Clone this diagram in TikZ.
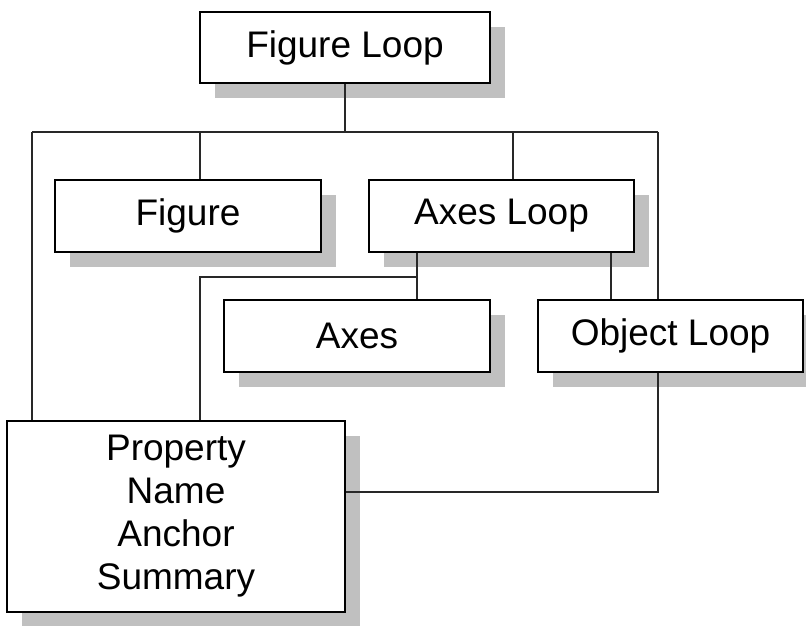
\documentclass[tikz,border=0pt]{standalone}
\usepackage{fontspec}
\setmainfont{Liberation Sans}
\usetikzlibrary{shadows}
\definecolor{shadowgray}{RGB}{192,192,192}
\definecolor{linegray}{RGB}{40,40,40}
\begin{document}
\begin{tikzpicture}[x={(0.5pt,0)},y={(0,-0.5pt)},
  box/.style={draw=black, fill=white, line width=1pt, inner sep=0pt,
    font=\fontsize{18.5}{21.5}\selectfont, align=center,
    drop shadow={shadow xshift=7.5pt, shadow yshift=-7.5pt, fill=shadowgray, opacity=1}},
  wire/.style={draw=linegray, line width=0.9pt}]
\useasboundingbox (0,0) rectangle (806,625);
\node[box, minimum width=145pt, minimum height=35.5pt] (fl) at (345,47.5) {Figure Loop};
\node[box, minimum width=133pt, minimum height=36pt] (fig) at (188,216) {Figure};
\node[box, minimum width=132.5pt, minimum height=36pt] (al) at (501.5,216) {Axes Loop};
\node[box, minimum width=133pt, minimum height=36pt] (ax) at (357,336) {Axes};
\node[box, minimum width=132.5pt, minimum height=36pt] (ol) at (670.5,336) {Object Loop};
\node[box, minimum width=169pt, minimum height=95.5pt] (pr) at (176,516.5) {Property\\Name\\Anchor\\Summary};
\coordinate (busL) at (32,132);
\coordinate (busR) at (658,132);
\coordinate (busM) at (345,132);
\coordinate (b2) at (417,277);
\coordinate (b2L) at (200,277);
\coordinate (b3) at (658,492);
% top bus
\draw[wire] (fl.south) -- (busM);
\draw[wire] (busL) -- (busR);
\draw[wire] (busL -| 200,0) -- (fig.north -| 200,0);
\draw[wire] (busL -| 513,0) -- (al.north -| 513,0);
\draw[wire] (busL) -- (pr.north -| busL);
\draw[wire] (busR) -- (ol.north -| busR);
% axes loop
\draw[wire] (al.south -| b2) -- (ax.north -| b2);
\draw[wire] (b2) -- (b2L) -- (pr.north -| b2L);
\draw[wire] (al.south -| 611,0) -- (ol.north -| 611,0);
% object loop back to property
\draw[wire] (ol.south -| b3) -- (b3) -- (pr.east |- b3);
\end{tikzpicture}
\end{document}
